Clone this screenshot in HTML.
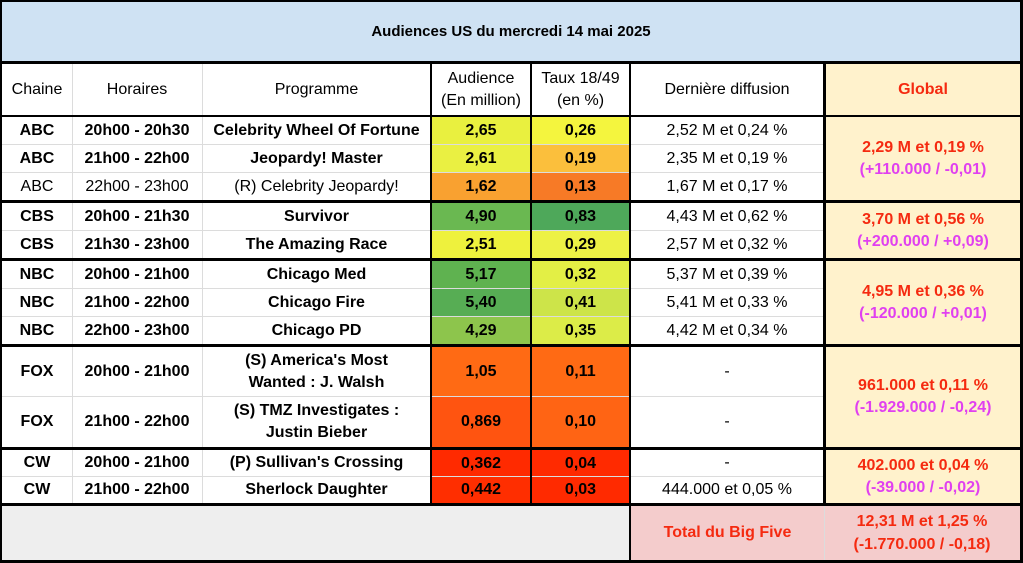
<!DOCTYPE html><html><head><meta charset="utf-8"><style>
body{margin:0;width:1023px;height:563px;background:#fff;position:relative;overflow:hidden;font-family:"Liberation Sans",sans-serif;color:#000}
.c{position:absolute;display:flex;align-items:center;justify-content:center;text-align:center;font-size:16px;line-height:22px;box-sizing:border-box}
.b{font-weight:bold}
.l{position:absolute;background:#000}
.g{position:absolute;background:#dcdcdc}
.r{color:#f52a10;font-weight:bold}
.m{color:#e040f0;font-weight:bold}
</style></head><body>
<div class="c b" style="left:2px;top:2px;width:1018px;height:59px;background:#cfe2f3;font-size:15px">Audiences US du mercredi 14 mai 2025</div>
<!-- header -->
<div class="c" style="left:2px;top:64px;width:70px;height:51px">Chaine</div>
<div class="c" style="left:72px;top:64px;width:130px;height:51px">Horaires</div>
<div class="c" style="left:202px;top:64px;width:229px;height:51px">Programme</div>
<div class="c" style="left:431px;top:64px;width:100px;height:51px">Audience<br>(En million)</div>
<div class="c" style="left:531px;top:64px;width:99px;height:51px">Taux 18/49<br>(en %)</div>
<div class="c" style="left:630px;top:64px;width:194px;height:51px">Dernière diffusion</div>
<div class="c r" style="left:826px;top:64px;width:194px;height:51px;background:#fff2cc">Global</div>

<!-- ABC -->
<div class="c b" style="left:2px;top:117px;width:70px;height:27px">ABC</div>
<div class="c b" style="left:72px;top:117px;width:130px;height:27px">20h00 - 20h30</div>
<div class="c b" style="left:202px;top:117px;width:229px;height:27px">Celebrity Wheel Of Fortune</div>
<div class="c b" style="left:431px;top:117px;width:100px;height:28px;background:#e9f03f">2,65</div>
<div class="c b" style="left:531px;top:117px;width:99px;height:28px;background:#f4f53e">0,26</div>
<div class="c" style="left:630px;top:117px;width:194px;height:27px">2,52 M et 0,24 %</div>
<div class="c b" style="left:2px;top:145px;width:70px;height:27px">ABC</div>
<div class="c b" style="left:72px;top:145px;width:130px;height:27px">21h00 - 22h00</div>
<div class="c b" style="left:202px;top:145px;width:229px;height:27px">Jeopardy! Master</div>
<div class="c b" style="left:431px;top:145px;width:100px;height:28px;background:#eaf042">2,61</div>
<div class="c b" style="left:531px;top:145px;width:99px;height:28px;background:#fbbf3c">0,19</div>
<div class="c" style="left:630px;top:145px;width:194px;height:27px">2,35 M et 0,19 %</div>
<div class="c" style="left:2px;top:173px;width:70px;height:27px">ABC</div>
<div class="c" style="left:72px;top:173px;width:130px;height:27px">22h00 - 23h00</div>
<div class="c" style="left:202px;top:173px;width:229px;height:27px">(R) Celebrity Jeopardy!</div>
<div class="c b" style="left:431px;top:173px;width:100px;height:27px;background:#f9a130">1,62</div>
<div class="c b" style="left:531px;top:173px;width:99px;height:27px;background:#f77a26">0,13</div>
<div class="c" style="left:630px;top:173px;width:194px;height:27px">1,67 M et 0,17 %</div>
<div class="c" style="left:826px;top:117px;width:194px;height:83px;background:#fff2cc"><div><span class="r">2,29 M et 0,19 %</span><br><span class="m">(+110.000 / -0,01)</span></div></div>

<!-- CBS -->
<div class="c b" style="left:2px;top:203px;width:70px;height:27px">CBS</div>
<div class="c b" style="left:72px;top:203px;width:130px;height:27px">20h00 - 21h30</div>
<div class="c b" style="left:202px;top:203px;width:229px;height:27px">Survivor</div>
<div class="c b" style="left:431px;top:203px;width:100px;height:28px;background:#6ab851">4,90</div>
<div class="c b" style="left:531px;top:203px;width:99px;height:28px;background:#4ea85a">0,83</div>
<div class="c" style="left:630px;top:203px;width:194px;height:27px">4,43 M et 0,62 %</div>
<div class="c b" style="left:2px;top:231px;width:70px;height:27px">CBS</div>
<div class="c b" style="left:72px;top:231px;width:130px;height:27px">21h30 - 23h00</div>
<div class="c b" style="left:202px;top:231px;width:229px;height:27px">The Amazing Race</div>
<div class="c b" style="left:431px;top:231px;width:100px;height:27px;background:#eef13d">2,51</div>
<div class="c b" style="left:531px;top:231px;width:99px;height:27px;background:#edf145">0,29</div>
<div class="c" style="left:630px;top:231px;width:194px;height:27px">2,57 M et 0,32 %</div>
<div class="c" style="left:826px;top:203px;width:194px;height:55px;background:#fff2cc"><div><span class="r">3,70 M et 0,56 %</span><br><span class="m">(+200.000 / +0,09)</span></div></div>

<!-- NBC -->
<div class="c b" style="left:2px;top:261px;width:70px;height:27px">NBC</div>
<div class="c b" style="left:72px;top:261px;width:130px;height:27px">20h00 - 21h00</div>
<div class="c b" style="left:202px;top:261px;width:229px;height:27px">Chicago Med</div>
<div class="c b" style="left:431px;top:261px;width:100px;height:28px;background:#5fb250">5,17</div>
<div class="c b" style="left:531px;top:261px;width:99px;height:28px;background:#e3ef45">0,32</div>
<div class="c" style="left:630px;top:261px;width:194px;height:27px">5,37 M et 0,39 %</div>
<div class="c b" style="left:2px;top:289px;width:70px;height:27px">NBC</div>
<div class="c b" style="left:72px;top:289px;width:130px;height:27px">21h00 - 22h00</div>
<div class="c b" style="left:202px;top:289px;width:229px;height:27px">Chicago Fire</div>
<div class="c b" style="left:431px;top:289px;width:100px;height:28px;background:#57ad54">5,40</div>
<div class="c b" style="left:531px;top:289px;width:99px;height:28px;background:#cde449">0,41</div>
<div class="c" style="left:630px;top:289px;width:194px;height:27px">5,41 M et 0,33 %</div>
<div class="c b" style="left:2px;top:317px;width:70px;height:27px">NBC</div>
<div class="c b" style="left:72px;top:317px;width:130px;height:27px">22h00 - 23h00</div>
<div class="c b" style="left:202px;top:317px;width:229px;height:27px">Chicago PD</div>
<div class="c b" style="left:431px;top:317px;width:100px;height:27px;background:#8dc54c">4,29</div>
<div class="c b" style="left:531px;top:317px;width:99px;height:27px;background:#dcec48">0,35</div>
<div class="c" style="left:630px;top:317px;width:194px;height:27px">4,42 M et 0,34 %</div>
<div class="c" style="left:826px;top:261px;width:194px;height:83px;background:#fff2cc"><div><span class="r">4,95 M et 0,36 %</span><br><span class="m">(-120.000 / +0,01)</span></div></div>

<!-- FOX -->
<div class="c b" style="left:2px;top:347px;width:70px;height:49px">FOX</div>
<div class="c b" style="left:72px;top:347px;width:130px;height:49px">20h00 - 21h00</div>
<div class="c b" style="left:202px;top:347px;width:229px;height:49px">(S) America's Most<br>Wanted : J. Walsh</div>
<div class="c b" style="left:431px;top:347px;width:100px;height:50px;background:#ff6a14">1,05</div>
<div class="c b" style="left:531px;top:347px;width:99px;height:50px;background:#ff6a14">0,11</div>
<div class="c" style="left:630px;top:347px;width:194px;height:49px">-</div>
<div class="c b" style="left:2px;top:397px;width:70px;height:50px">FOX</div>
<div class="c b" style="left:72px;top:397px;width:130px;height:50px">21h00 - 22h00</div>
<div class="c b" style="left:202px;top:397px;width:229px;height:50px">(S) TMZ Investigates :<br>Justin Bieber</div>
<div class="c b" style="left:431px;top:397px;width:100px;height:50px;background:#ff5410">0,869</div>
<div class="c b" style="left:531px;top:397px;width:99px;height:50px;background:#ff6414">0,10</div>
<div class="c" style="left:630px;top:397px;width:194px;height:50px">-</div>
<div class="c" style="left:826px;top:347px;width:194px;height:100px;background:#fff2cc"><div><span class="r">961.000 et 0,11 %</span><br><span class="m">(-1.929.000 / -0,24)</span></div></div>

<!-- CW -->
<div class="c b" style="left:2px;top:450px;width:70px;height:26px">CW</div>
<div class="c b" style="left:72px;top:450px;width:130px;height:26px">20h00 - 21h00</div>
<div class="c b" style="left:202px;top:450px;width:229px;height:26px">(P) Sullivan's Crossing</div>
<div class="c b" style="left:431px;top:450px;width:100px;height:27px;background:#ff2a00">0,362</div>
<div class="c b" style="left:531px;top:450px;width:99px;height:27px;background:#ff2a00">0,04</div>
<div class="c" style="left:630px;top:450px;width:194px;height:26px">-</div>
<div class="c b" style="left:2px;top:477px;width:70px;height:26px">CW</div>
<div class="c b" style="left:72px;top:477px;width:130px;height:26px">21h00 - 22h00</div>
<div class="c b" style="left:202px;top:477px;width:229px;height:26px">Sherlock Daughter</div>
<div class="c b" style="left:431px;top:477px;width:100px;height:26px;background:#ff2e00">0,442</div>
<div class="c b" style="left:531px;top:477px;width:99px;height:26px;background:#ff2a00">0,03</div>
<div class="c" style="left:630px;top:477px;width:194px;height:26px">444.000 et 0,05 %</div>
<div class="c" style="left:826px;top:450px;width:194px;height:53px;background:#fff2cc"><div><span class="r">402.000 et 0,04 %</span><br><span class="m">(-39.000 / -0,02)</span></div></div>

<!-- total -->
<div class="c" style="left:2px;top:506px;width:627px;height:54px;background:#eeeeee"></div>
<div class="c r" style="left:631px;top:506px;width:193px;height:54px;background:#f4cccc">Total du Big Five</div>
<div class="c r" style="left:824px;top:506px;width:196px;height:54px;background:#f4cccc;line-height:23px">12,31 M et 1,25 %<br>(-1.770.000 / -0,18)</div>

<!-- light lines -->
<div class="g" style="left:72px;top:64px;width:1px;height:440px"></div>
<div class="g" style="left:202px;top:64px;width:1px;height:440px"></div>
<div class="g" style="left:2px;top:144px;width:822px;height:1px"></div>
<div class="g" style="left:2px;top:172px;width:822px;height:1px"></div>
<div class="g" style="left:2px;top:230px;width:822px;height:1px"></div>
<div class="g" style="left:2px;top:288px;width:822px;height:1px"></div>
<div class="g" style="left:2px;top:316px;width:822px;height:1px"></div>
<div class="g" style="left:2px;top:396px;width:822px;height:1px"></div>
<div class="g" style="left:2px;top:476px;width:822px;height:1px"></div>
<div class="g" style="left:824px;top:506px;width:1px;height:54px"></div>

<!-- black lines -->
<div class="l" style="left:0;top:0;width:1023px;height:2px"></div>
<div class="l" style="left:0;top:61px;width:1023px;height:3px"></div>
<div class="l" style="left:0;top:115px;width:1023px;height:2px"></div>
<div class="l" style="left:0;top:200px;width:1023px;height:3px"></div>
<div class="l" style="left:0;top:258px;width:1023px;height:3px"></div>
<div class="l" style="left:0;top:344px;width:1023px;height:3px"></div>
<div class="l" style="left:0;top:447px;width:1023px;height:3px"></div>
<div class="l" style="left:0;top:503px;width:1023px;height:3px"></div>
<div class="l" style="left:0;top:560px;width:1023px;height:3px"></div>
<div class="l" style="left:0;top:0;width:2px;height:563px"></div>
<div class="l" style="left:1020px;top:0;width:3px;height:563px"></div>
<div class="l" style="left:430px;top:64px;width:2px;height:440px"></div>
<div class="l" style="left:530px;top:64px;width:2px;height:440px"></div>
<div class="l" style="left:629px;top:64px;width:2px;height:499px"></div>
<div class="l" style="left:823px;top:64px;width:3px;height:442px"></div>
</body></html>
